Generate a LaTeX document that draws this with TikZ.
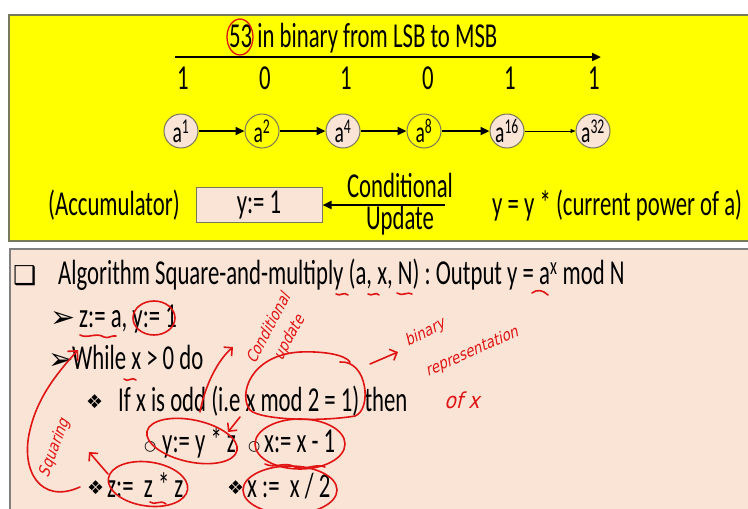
\documentclass[tikz,border=0pt]{standalone}
\usepackage{fontspec}
\setmainfont[FakeStretch=0.65]{Carlito}
\newfontfamily\symfont{DejaVu Sans}
\newfontfamily\handfont[FakeSlant=0.25,FakeStretch=0.85]{DejaVu Sans}
\usetikzlibrary{arrows.meta}
\definecolor{ylw}{RGB}{255,255,0}
\definecolor{peach}{RGB}{249,228,214}
\definecolor{bord}{RGB}{120,120,90}
\definecolor{pen}{RGB}{225,20,20}
\tikzset{
  txt/.style={font=\fontsize{35}{37}\selectfont, inner sep=0pt, anchor=base west},
  ctxt/.style={font=\fontsize{35}{37}\selectfont, inner sep=0pt, anchor=base},
  pw/.style={circle, draw=bord, line width=1pt, minimum size=34pt, inner sep=0pt, font=\fontsize{30}{31}\selectfont},
  pwp/.style={pw, fill=peach},
  pwy/.style={pw, fill=ylw},
  chain/.style={-{Triangle[length=9pt,width=8pt]}, line width=2.4pt},
  ink/.style={draw=pen, line width=1.6pt, line cap=round, line join=round},
  hand/.style={text=pen, font=\handfont\fontsize{16}{17}\selectfont, inner sep=0pt},
  sym/.style={inner sep=0pt, anchor=base west},
}
\begin{document}
\begin{tikzpicture}[x=1pt,y=-1pt]
\useasboundingbox (0,0) rectangle (748,509);
\fill[white] (0,0) rectangle (748,509);
% panels
\draw[fill=ylw, draw=bord, line width=1.2pt] (9,15) rectangle (760,241);
\draw[fill=peach, draw=gray, line width=1.2pt] (10,249) rectangle (760,520);

% top panel
\node[txt] (title) at (229,47) {53 in binary from LSB to MSB};
\coordinate (ls) at (175,57);
\coordinate (le) at (601,57);
\draw[-{Triangle[length=9pt,width=8pt]}, line width=2.4pt] (ls) -- (le);
\foreach \b/\x [count=\i] in {1/183,0/265,1/346,0/428,1/510,1/594}
  \node[ctxt] (d\i) at (\x,89) {\b};
\node[pwp] (p1) at (181,131) {a\textsuperscript{1}};
\node[pwy] (p2) at (262,131) {a\textsuperscript{2}};
\node[pwp] (p3) at (343,131) {a\textsuperscript{4}};
\node[pwy] (p4) at (424,131) {a\textsuperscript{8}};
\node[pwp] (p5) at (507,131) {a\textsuperscript{16}};
\node[pwp] (p6) at (593,131) {a\textsuperscript{32}};
\draw[chain] (p1) -- (p2);
\draw[chain] (p2) -- (p3);
\draw[chain] (p3) -- (p4);
\draw[chain] (p4) -- (p5);
\draw[-{Triangle[length=5pt,width=4pt]}, line width=0.6pt] (p5) -- (p6);

\node[txt] (acc) at (48,215) {(Accumulator)};
\node[draw=bord, fill=peach, line width=1pt, minimum width=126pt, minimum height=35pt, inner sep=0pt, font=\fontsize{35}{37}\selectfont] (ybox) at (259,205) {y:= 1};
\coordinate (upd) at (445,205);
\draw[chain] (upd) -- (ybox.east);
\node[ctxt] (cond) at (400,197) {Conditional};
\node[ctxt] (updt) at (400,229) {Update};
\node[txt] (rule) at (492,215) {y = y * (current power of a)};

% bottom panel
\node[sym, font=\symfont\fontsize{26}{28}\selectfont] (box) at (13,284) {❑};
\node[txt] (alg) at (58,284) {Algorithm Square-and-multiply (a, x, N) : Output y = a\textsuperscript{x} mod N};
\node[sym, font=\symfont\fontsize{30}{32}\selectfont] (ar1) at (50,327) {➢};
\node[txt] (l1) at (79,327) {z:= a, y:= 1};
\node[sym, font=\symfont\fontsize{30}{32}\selectfont] (ar2) at (48,369) {➢};
\node[txt] (l2) at (72,369) {While x > 0 do};
\node[sym, font=\symfont\fontsize{19}{20}\selectfont] (dm1) at (86,408) {❖};
\node[txt] (l3) at (118,411) {If x is odd (i.e x mod 2 = 1) then};
\node[sym, font=\symfont\fontsize{14}{16}\selectfont] (o1) at (144,450) {○};
\node[txt] (l4) at (162,452) {y:= y * z};
\node[sym, font=\symfont\fontsize{14}{16}\selectfont] (o2) at (248,450) {○};
\node[txt] (l5) at (264,452) {x:= x - 1};
\node[sym, font=\symfont\fontsize{19}{20}\selectfont] (dm2) at (87,494) {❖};
\node[txt] (l6) at (107,497) {z:=~ z * z};
\node[sym, font=\symfont\fontsize{19}{20}\selectfont] (dm3) at (227,494) {❖};
\node[txt] (l7) at (247,497) {x :=~ x / 2};

% red annotations
\draw[draw=pen, line width=1.3pt] (240,37) ellipse (13pt and 18pt);
\draw[ink] (336,294) .. controls (340,297) and (344,291) .. (348,295);
\draw[ink] (368,294) .. controls (372,297) and (376,291) .. (379,295);
\draw[ink] (397,293) .. controls (402,297) and (408,291) .. (412,294);
\draw[ink] (532,293) .. controls (537,289) and (543,290) .. (548,295);
\draw[ink] (80,335) .. controls (88,339) and (96,332) .. (104,337) .. controls (108,339) and (112,335) .. (116,336);
\draw[ink] (154,318) ellipse (21pt and 17pt);
\draw[ink] (124,379) .. controls (128,383) and (132,376) .. (136,380);
% squaring
\draw[ink, -{Straight Barb[length=7pt]}] (80,487) .. controls (40,505) and (20,470) .. (30,430) .. controls (38,395) and (60,370) .. (78,350);
\node[hand, rotate=70] (sq) at (55,448) {Squaring};
\draw[ink, -{Straight Barb[length=6pt]}] (108,474) -- (89,452);
\draw[ink, rotate around={-8:(148,484)}] (148,484) ellipse (40pt and 22pt);
\draw[ink, rotate around={-12:(192,441)}] (192,441) ellipse (46pt and 21pt);
% conditional update
\draw[ink, -{Straight Barb[length=6pt]}] (200,412) .. controls (205,385) and (218,360) .. (233,347);
\node[hand, rotate=62] (cu1) at (268,328) {Conditional};
\node[hand, rotate=62] (cu2) at (290,338) {update};
\draw[ink, -{Straight Barb[length=6pt]}] (240,417) -- (228,432);
% x mod 2 = 1
\draw[ink] (340,362) .. controls (368,360) and (372,410) .. (355,416) .. controls (320,422) and (260,420) .. (250,410) .. controls (238,395) and (250,355) .. (300,352) .. controls (325,351) and (345,355) .. (350,362);
\draw[ink, -{Straight Barb[length=6pt]}] (370,364) -- (398,352);
\node[hand, rotate=28] (bin) at (425,333) {binary};
\node[hand, rotate=24] (rep) at (472,352) {representation};
\node[hand, font=\handfont\fontsize{22}{24}\selectfont] (ofx) at (462,400) {of x};
\draw[ink] (300,444) ellipse (45pt and 25pt);
\draw[ink] (265,464) .. controls (275,469) and (285,461) .. (295,467) .. controls (305,471) and (315,463) .. (325,467);
\draw[ink] (290,490) ellipse (47pt and 24pt);
\draw[ink] (150,502) .. controls (155,506) and (160,499) .. (166,504);
\end{tikzpicture}
\end{document}
